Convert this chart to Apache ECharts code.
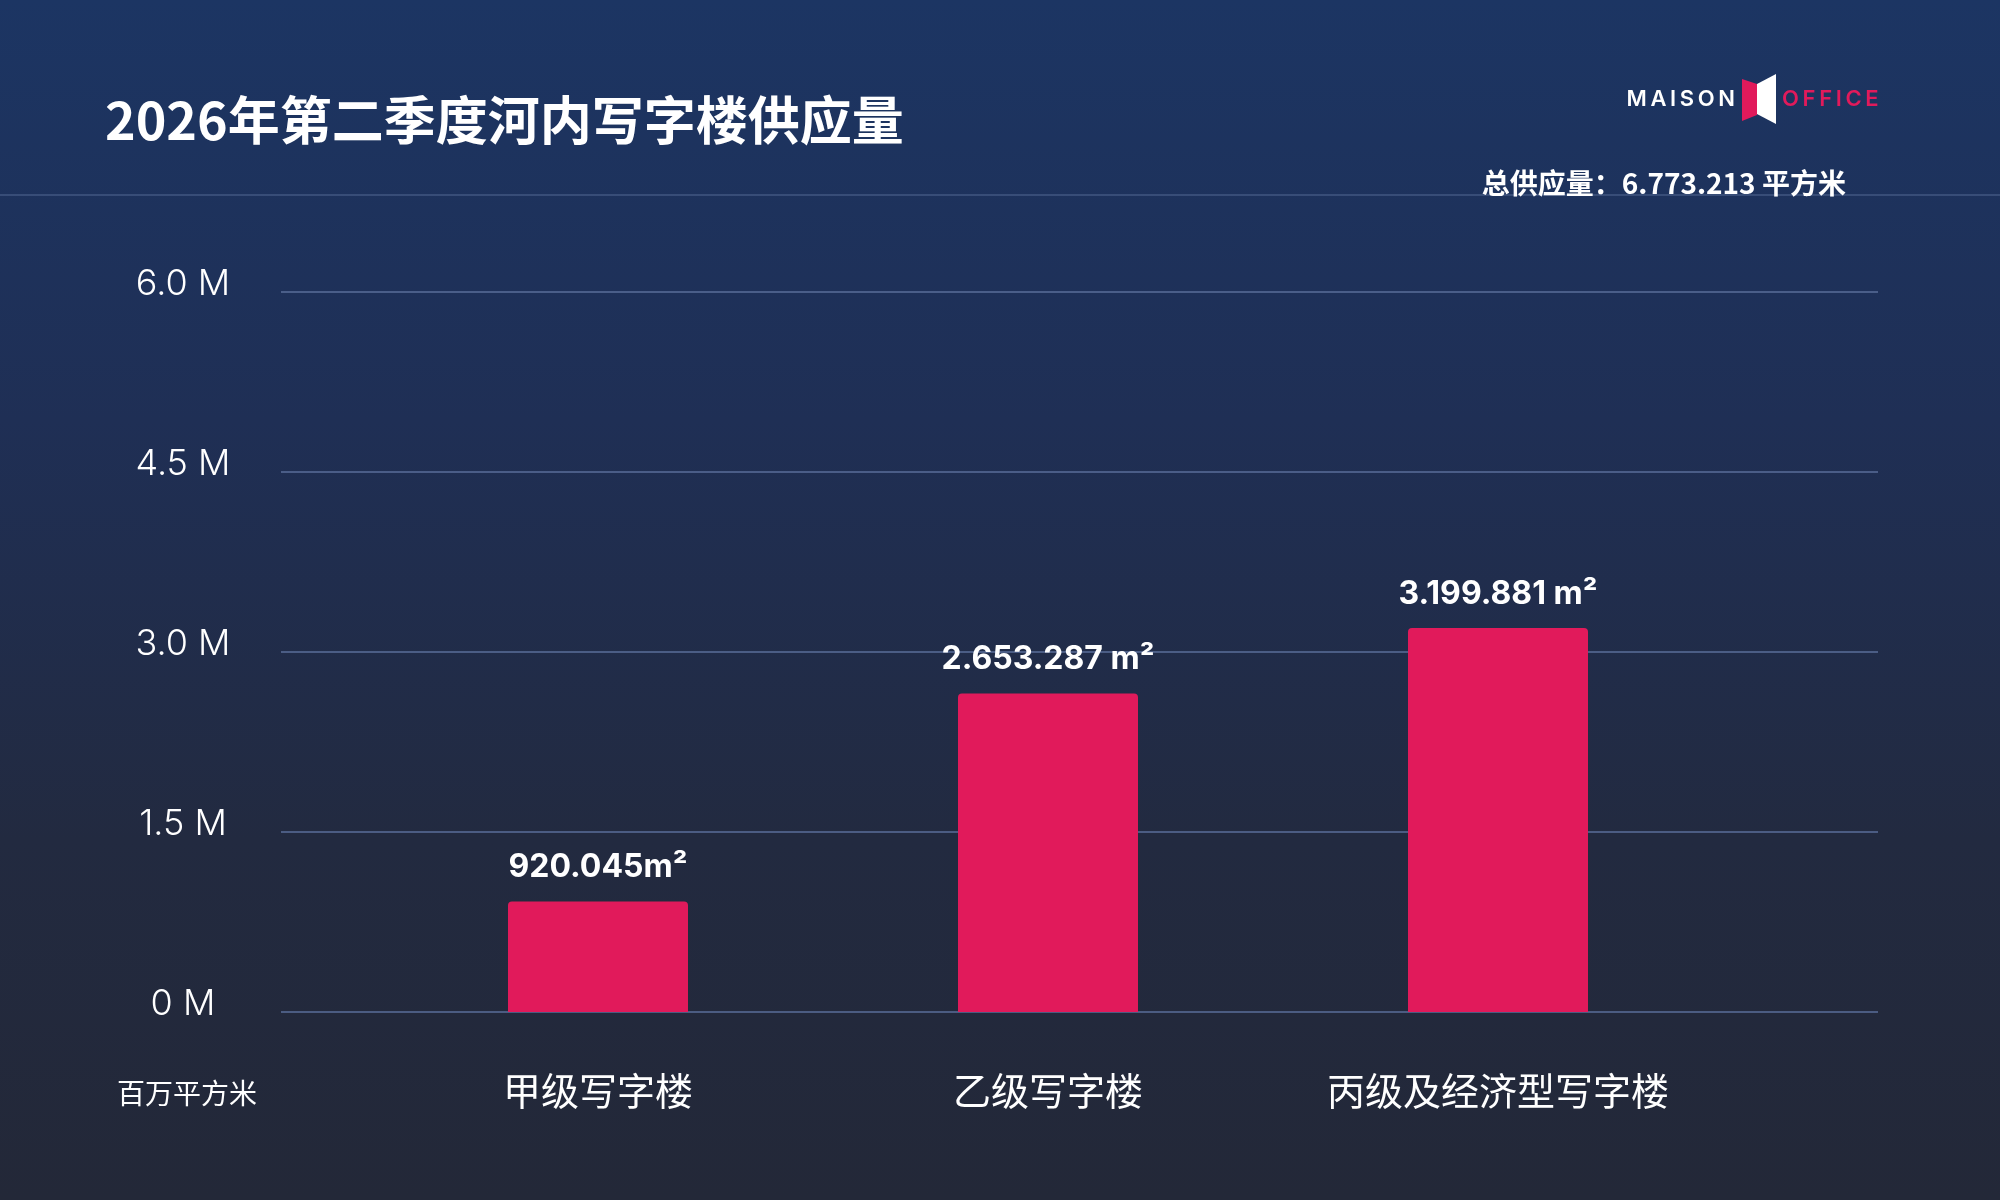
<!DOCTYPE html>
<html>
<head>
<meta charset="utf-8">
<script src="https://cdn.jsdelivr.net/npm/echarts@6/dist/echarts.min.js"></script>
<style>
html,body{margin:0;padding:0;background:#22283a;}
#chart{width:2000px;height:1200px;}
</style>
</head>
<body>
<div id="chart"></div>
<script>
// data
var categories = ['甲级写字楼', '乙级写字楼', '丙级及经济型写字楼'];
var supply = [920045, 2653287, 3199881];
var supplyLabels = ['920.045m²', '2.653.287 m²', '3.199.881 m²'];
var yMin = 0, yMax = 6000000, yStep = 1500000;
var titleText = '2026年第二季度河内写字楼供应量';
var totalText = '总供应量：6.773.213 平方米';
var unitText = '百万平方米';

var pink = '#e11a5b';
var cjk = '"Noto Sans CJK SC", "Noto Sans", sans-serif';
var latin = 'Inter, "Noto Sans", sans-serif';

var chart = echarts.init(document.getElementById('chart'));

var option = {
	backgroundColor: {
		type: 'linear', x: 0, y: 0, x2: 0, y2: 1,
		colorStops: [
			{offset: 0, color: '#1c3563'},
			{offset: 0.35, color: '#1f2f55'},
			{offset: 0.7, color: '#222a40'},
			{offset: 1, color: '#232838'}
		]
	},
	grid: [
		{left: 281, right: 122, top: 292, bottom: 188}, // split lines + y labels
		{left: 373, right: 277, top: 292, bottom: 188}  // bars
	],
	xAxis: [
		{gridIndex: 0, type: 'value', show: false, min: 0, max: 1},
		{
			gridIndex: 1, type: 'category', data: categories,
			axisLine: {show: false}, axisTick: {show: false},
			axisLabel: {
				color: '#ffffff', fontSize: 38, fontFamily: cjk, fontWeight: 400,
				margin: 60, verticalAlign: 'top'
			}
		}
	],
	yAxis: [
		{
			gridIndex: 0, type: 'value', min: yMin, max: yMax, interval: yStep,
			axisLine: {show: false}, axisTick: {show: false},
			axisLabel: {
				color: '#ffffff', fontSize: 36, fontFamily: latin, fontWeight: 300,
				align: 'center', margin: 98, verticalAlign: 'bottom', lineHeight: 16,
				formatter: function (v) {
					return v === 0 ? '0 M' : (v / 1000000).toFixed(1) + ' M';
				}
			},
			splitLine: {lineStyle: {color: '#5a6e9a', width: 1.5}}
		},
		{gridIndex: 1, type: 'value', min: yMin, max: yMax, interval: yStep, show: false, splitLine: {show: false}}
	],
	series: [
		{
			type: 'bar', xAxisIndex: 1, yAxisIndex: 1,
			data: supply, barWidth: 180,
			itemStyle: {color: pink, borderRadius: [4, 4, 0, 0]},
			label: {
				show: true, position: 'top', distance: 18,
				color: '#ffffff', fontSize: 32, fontWeight: 'bold', fontFamily: latin,
				formatter: function (p) { return supplyLabels[p.dataIndex]; }
			}
		}
	],
	graphic: [
		{
			type: 'text', left: 105, top: 94,
			style: {text: titleText, fill: '#ffffff', font: 'bold 52px ' + cjk}
		},
		{
			type: 'line', shape: {x1: 0, y1: 195, x2: 2000, y2: 195},
			style: {stroke: 'rgba(130,150,195,0.55)', lineWidth: 1}
		},
		{
			type: 'text', x: 1846, y: 183,
			style: {text: totalText, fill: '#ffffff', font: 'bold 28px ' + cjk, textAlign: 'right', textVerticalAlign: 'middle'}
		},
		{
			type: 'text', x: 187, y: 1093,
			style: {text: unitText, fill: '#ffffff', font: '28px ' + cjk, textAlign: 'center', textVerticalAlign: 'middle'}
		},
		// logo
		{
			type: 'text', x: 1735, y: 99,
			style: {text: 'M\u2009A\u2009I\u2009S\u2009O\u2009N', fill: '#ffffff', font: '600 22px ' + latin, textAlign: 'right', textVerticalAlign: 'middle'}
		},
		{
			type: 'polygon',
			shape: {points: [[1742, 79], [1757, 84], [1757, 115], [1742, 121]]},
			style: {fill: pink}
		},
		{
			type: 'polygon',
			shape: {points: [[1757, 84], [1776, 74], [1776, 124], [1757, 114]]},
			style: {fill: '#ffffff'}
		},
		{
			type: 'text', x: 1782, y: 99,
			style: {text: 'O\u2009F\u2009F\u2009I\u2009C\u2009E', fill: pink, font: '600 22px ' + latin, textAlign: 'left', textVerticalAlign: 'middle'}
		}
	]
};
chart.setOption(option);
</script>
</body>
</html>
